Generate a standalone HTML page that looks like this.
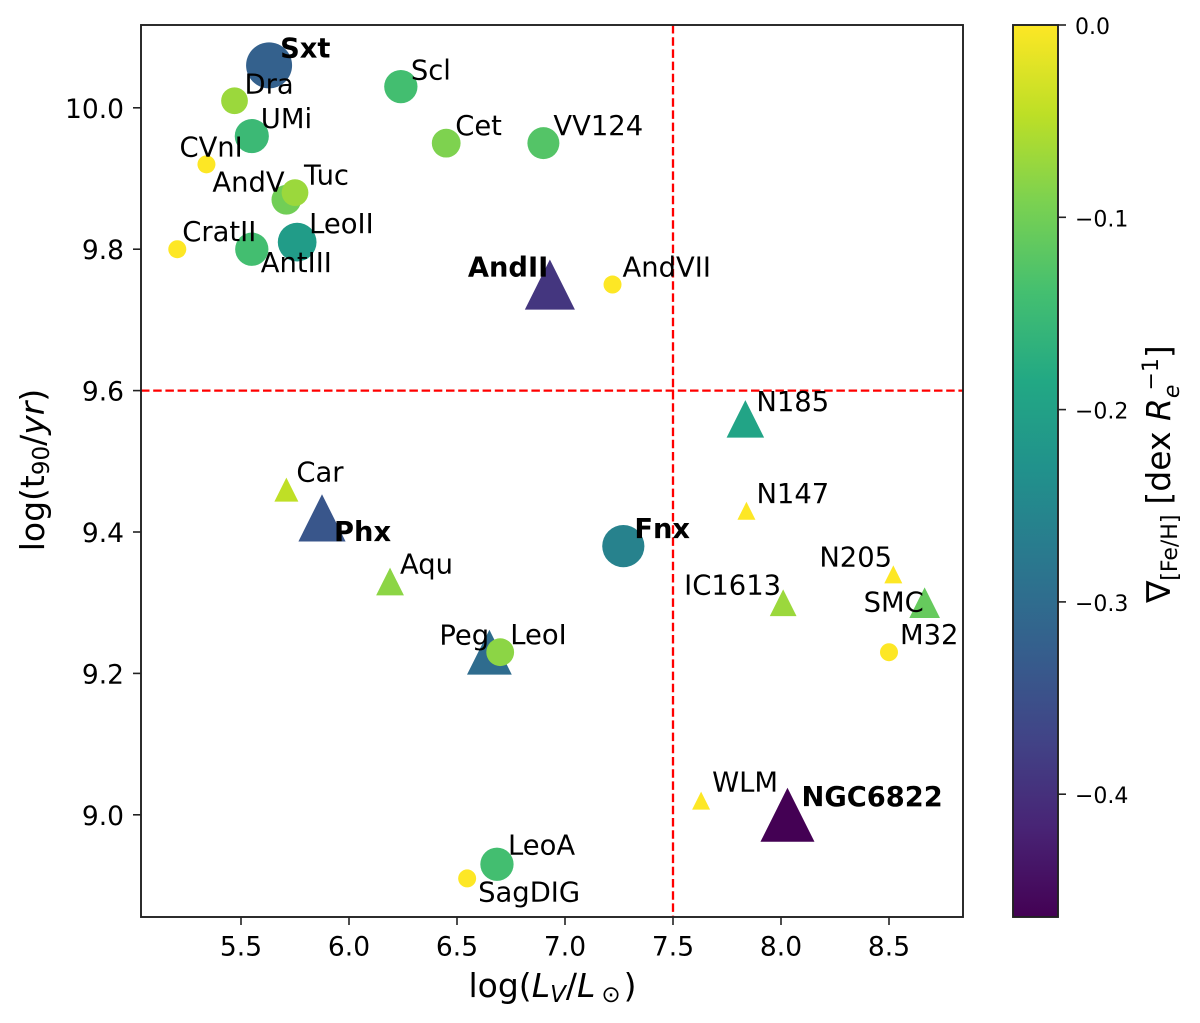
<!DOCTYPE html>
<html>
<head>
<meta charset="utf-8">
<title>Metallicity gradient chart</title>
<style>
html,body{margin:0;padding:0;background:#fff;}
svg{display:block;filter:blur(0.35px);}
text{font-family:"DejaVu Sans","Liberation Sans",sans-serif;fill:#000;}
</style>
</head>
<body>
<svg id="chart" width="1200" height="1023" viewBox="0 0 1200 1023" xmlns="http://www.w3.org/2000/svg">
<defs>
<linearGradient id="viridis" x1="0" y1="1" x2="0" y2="0">
<stop offset="0" stop-color="#440154"/><stop offset="0.1" stop-color="#482475"/><stop offset="0.2" stop-color="#414487"/><stop offset="0.3" stop-color="#355f8d"/><stop offset="0.4" stop-color="#2a788e"/><stop offset="0.5" stop-color="#21918c"/><stop offset="0.6" stop-color="#22a884"/><stop offset="0.7" stop-color="#44bf70"/><stop offset="0.8" stop-color="#7ad151"/><stop offset="0.9" stop-color="#bddf26"/><stop offset="1" stop-color="#fde725"/>
</linearGradient>
</defs>
<g id="marks"></g>
<g id="refs"></g>
<g id="labels"></g>
<rect x="141" y="25" width="822" height="892" fill="none" stroke="#222" stroke-width="1.9"/>
<g id="xticks"></g>
<g id="yticks"></g>
<text x="552.5" y="997" font-size="33" text-anchor="middle">log(<tspan font-style="italic">L</tspan><tspan font-style="italic" font-size="23" dy="5">V</tspan><tspan dy="-5">/</tspan><tspan font-style="italic">L</tspan><tspan font-size="23" dy="5" dx="6">⊙</tspan><tspan dy="-5" dx="3">)</tspan></text>
<text transform="translate(44 470) rotate(-90)" font-size="33" text-anchor="middle">log(t<tspan font-size="23" dy="5">90</tspan><tspan dy="-5">/</tspan><tspan font-style="italic">yr</tspan>)</text>
<rect x="1013" y="25" width="45" height="892" fill="url(#viridis)" stroke="#222" stroke-width="1.9"/>
<g id="cticks"></g>
<text transform="translate(1170 474) rotate(-90)" font-size="33" text-anchor="middle">∇<tspan font-size="22" dy="7">[Fe/H]</tspan><tspan dy="-7" dx="10">[dex </tspan><tspan font-style="italic">R</tspan><tspan font-style="italic" font-size="22" dy="9">e</tspan><tspan font-size="22" dy="-21" dx="-6">−1</tspan><tspan dy="12">]</tspan></text>
<script>
const galaxyNames = ["Sxt","Dra","Scl","UMi","Cet","VV124","CVnI","AndV","Tuc","CratII","AntIII","LeoII","AndII","AndVII","N185","Car","Phx","Aqu","N147","Fnx","N205","IC1613","SMC","M32","Peg","LeoI","WLM","NGC6822","LeoA","SagDIG"];
const logLuminosity = [5.63,5.47,6.24,5.55,6.45,6.90,5.34,5.71,5.75,5.205,5.55,5.76,6.93,7.22,7.835,5.71,5.875,6.19,7.84,7.27,8.52,8.01,8.665,8.50,6.65,6.70,7.63,8.03,6.685,6.547];
const logT90 = [10.06,10.01,10.03,9.96,9.95,9.95,9.92,9.87,9.88,9.80,9.80,9.81,9.75,9.75,9.56,9.46,9.42,9.33,9.43,9.38,9.34,9.30,9.30,9.23,9.23,9.23,9.02,9.00,8.93,8.91];
const feGradient = [-0.32,-0.07,-0.14,-0.15,-0.09,-0.125,0,-0.10,-0.07,0,-0.14,-0.21,-0.39,0,-0.194,-0.045,-0.34,-0.08,0,-0.26,0,-0.07,-0.11,0,-0.3,-0.08,0,-0.463,-0.14,0];
const markerKinds = ["o","o","o","o","o","o","o","o","o","o","o","o","t","o","t","t","t","t","t","o","t","t","t","o","t","o","t","t","o","o"];
const boldNames = ["Sxt","AndII","Phx","Fnx","NGC6822"];
const xTickValues = [5.5,6.0,6.5,7.0,7.5,8.0,8.5];
const yTickValues = [9.0,9.2,9.4,9.6,9.8,10.0];
const colorTickValues = [0,-0.1,-0.2,-0.3,-0.4];
const refLuminosity = 7.5;
const refT90 = 9.6;
const labelOffsetX = [11,10,10,9,9,10,-27,-74,9,5,9,12,-82,10,11,10,12,10,10,11,-74,-99,-61,11,-50,10,11,14,11,11];
const labelOffsetY = [-8,-7,-7,-8,-8,-8,-8,-8,-8,-8,23,-9,-8,-8,-8,-8,23,-8,-8,-8,-8,-8,9,-8,-7.5,-8,-9,-9,-10,23];

const SVGNS = "http://www.w3.org/2000/svg";
function xScale(v){return 241+(v-5.5)*216;}
function yScale(v){return 107.8+(10-v)*707;}
function cScale(v){return 25+(0-v)*1923;}
function radiusFor(g){return Math.sqrt(81+1400*Math.abs(g));}
const viridisStops = ["#440154","#482475","#414487","#355f8d","#2a788e","#21918c","#22a884","#44bf70","#7ad151","#bddf26","#fde725"];
function hexRgb(h){return [1,3,5].map(function(i){return parseInt(h.substr(i,2),16);});}
function colorFor(g){
  const t=Math.max(0,Math.min(1,(g+0.463)/0.463))*10;
  const i=Math.min(9,Math.floor(t)),f=t-i;
  const a=hexRgb(viridisStops[i]),b=hexRgb(viridisStops[i+1]);
  return "rgb("+a.map(function(c,k){return Math.round(c+(b[k]-c)*f);}).join(",")+")";
}
function make(tag,parent,attrs,txt){
  const el=document.createElementNS(SVGNS,tag);
  for(const k in attrs){el.setAttribute(k,attrs[k]);}
  if(txt!==undefined){el.textContent=txt;}
  parent.appendChild(el);
  return el;
}
const marks=document.getElementById("marks");
const labels=document.getElementById("labels");
const refs=document.getElementById("refs");
galaxyNames.forEach(function(name,i){
  const cx=xScale(logLuminosity[i]),cy=yScale(logT90[i]),g=feGradient[i],r=radiusFor(g),col=colorFor(g);
  let m;
  if(markerKinds[i]==="o"){
    m=make("circle",marks,{cx:cx,cy:cy,r:r,fill:col});
  }else{
    m=make("polygon",marks,{points:cx+","+(cy-r)+" "+(cx-r)+","+(cy+r)+" "+(cx+r)+","+(cy+r),fill:col});
  }
  
  
  const isBold=boldNames.indexOf(name)>=0;
  const t=make("text",labels,{x:cx+labelOffsetX[i],y:cy+labelOffsetY[i],"font-size":isBold?27.3:27.4,"font-weight":isBold?"bold":"normal"},name);
  
  
});
const vLine=make("line",refs,{x1:xScale(refLuminosity),x2:xScale(refLuminosity),y1:25,y2:917,stroke:"#f00","stroke-width":2.3,"stroke-dasharray":"8.5 3.7"});


const hLine=make("line",refs,{x1:141,x2:963,y1:yScale(refT90),y2:yScale(refT90),stroke:"#f00","stroke-width":2.3,"stroke-dasharray":"8.5 3.7"});


const xticks=document.getElementById("xticks");
xTickValues.forEach(function(v){
  const x=xScale(v);
  const tk=make("line",xticks,{x1:x,x2:x,y1:917,y2:925,stroke:"#222","stroke-width":1.6});
  
  
  const lb=make("text",xticks,{x:x,y:955.5,"font-size":26.5,"text-anchor":"middle"},v.toFixed(1));
  
  
});
const yticks=document.getElementById("yticks");
yTickValues.forEach(function(v){
  const y=yScale(v);
  const tk=make("line",yticks,{x1:133,x2:141,y1:y,y2:y,stroke:"#222","stroke-width":1.6});
  
  
  const lb=make("text",yticks,{x:124,y:y+10,"font-size":26.5,"text-anchor":"end"},v.toFixed(1));
  
  
});
const cticks=document.getElementById("cticks");
colorTickValues.forEach(function(v){
  const y=cScale(v);
  const tk=make("line",cticks,{x1:1058,x2:1066,y1:y,y2:y,stroke:"#222","stroke-width":1.6});
  
  
  const txt=(v<0?"\u2212":"")+Math.abs(v).toFixed(1);
  const lb=make("text",cticks,{x:1075,y:y+9,"font-size":22},txt);
  
  
});
</script>
</svg>
</body>
</html>
